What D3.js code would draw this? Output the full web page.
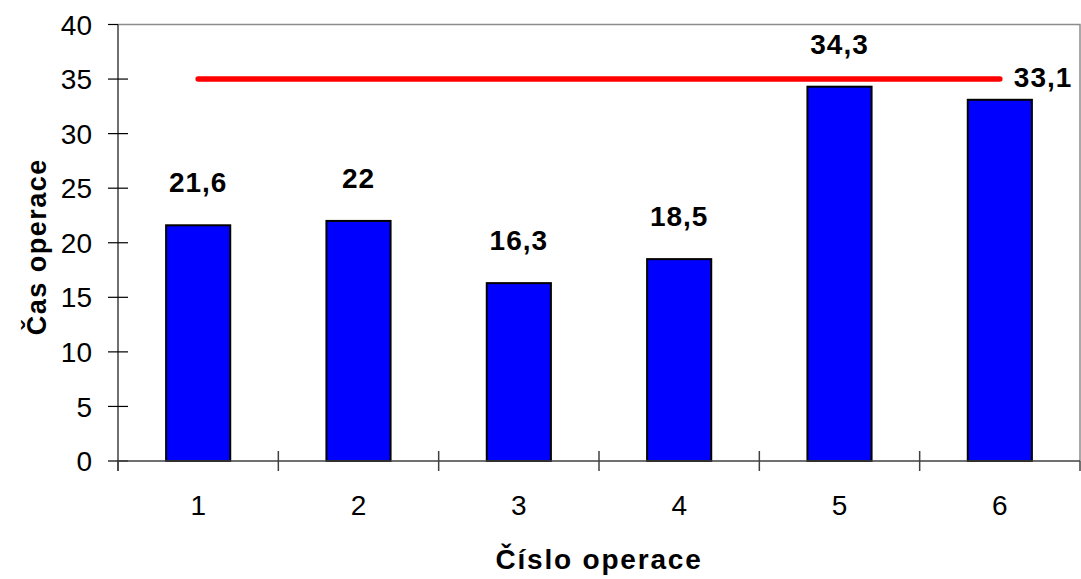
<!DOCTYPE html>
<html>
<head>
<meta charset="utf-8">
<script src="https://cdn.jsdelivr.net/npm/d3@7"></script>
<style>
  html, body { margin: 0; padding: 0; background: #fff; }
  svg { display: block; font-family: "Liberation Sans", Arial, sans-serif; }
</style>
</head>
<body>
<svg id="chart" width="1081" height="579"></svg>
<script>
// Operation numbers and their durations
const operations = ["1", "2", "3", "4", "5", "6"];
const durations = [21.6, 22, 16.3, 18.5, 34.3, 33.1];
const durationLabels = ["21,6", "22", "16,3", "18,5", "34,3", "33,1"];
// Limit line drawn across the operations
const limitValue = 35;
const yTicks = [0, 5, 10, 15, 20, 25, 30, 35, 40];

const svg = d3.select("#chart");
const margin = { left: 118, right: 1, top: 24.5, bottom: 118 };
const W = 1081, H = 579;
const x0 = margin.left, x1 = W - margin.right;
const y0 = H - margin.bottom, y1 = margin.top;

const x = d3.scaleBand().domain(operations).range([x0, x1]).paddingInner(0.6).paddingOuter(0.3);
const xOuter = d3.scaleBand().domain(operations).range([x0, x1]);
const y = d3.scaleLinear().domain([0, 40]).range([y0, y1]);

// plot frame: top and right edges
svg.append("path")
  .attr("d", `M${x0},${y1}H${x1}V${y0}`)
  .attr("fill", "none").attr("stroke", "#8c8c8c").attr("stroke-width", 1.5);

// bars
svg.append("g").selectAll("rect").data(durations).join("rect")
  .attr("x", (d, i) => x(operations[i]))
  .attr("width", x.bandwidth())
  .attr("y", d => y(d))
  .attr("height", d => y(0) - y(d))
  .attr("fill", "#0000ff")
  .attr("stroke", "#000").attr("stroke-width", 2);

// y axis with ticks crossing the line
const yAxis = svg.append("g").attr("transform", `translate(${x0},0)`);
yAxis.append("line").attr("x1", 0).attr("x2", 0).attr("y1", y(40)).attr("y2", y(0) + 10)
  .attr("stroke", "#404040").attr("stroke-width", 1.5);
yAxis.selectAll("line.t").data(yTicks).join("line").attr("class", "t")
  .attr("x1", -10).attr("x2", d => d === 40 ? 0 : 10)
  .attr("y1", d => y(d)).attr("y2", d => y(d))
  .attr("stroke", "#000").attr("stroke-width", 1.2);
yAxis.selectAll("text").data(yTicks).join("text")
  .attr("x", -26).attr("y", d => y(d)).attr("dy", "0.36em")
  .attr("text-anchor", "end").attr("font-size", 28).attr("fill", "#000")
  .text(d => d);

// x axis with category separators
const xAxis = svg.append("g");
xAxis.append("line").attr("x1", x0).attr("x2", x1).attr("y1", y0).attr("y2", y0)
  .attr("stroke", "#404040").attr("stroke-width", 1.5);
const seps = operations.map(o => xOuter(o)).concat([x1]);
xAxis.selectAll("line.t").data(seps).join("line").attr("class", "t")
  .attr("x1", d => d).attr("x2", d => d)
  .attr("y1", (d, i) => i === 0 || i === seps.length - 1 ? y0 : y0 - 10).attr("y2", y0 + 10)
  .attr("stroke", "#404040").attr("stroke-width", 1.5);
xAxis.selectAll("text").data(operations).join("text")
  .attr("x", d => xOuter(d) + xOuter.bandwidth() / 2).attr("y", y0 + 54)
  .attr("text-anchor", "middle").attr("font-size", 28).attr("fill", "#000")
  .text(d => d);

// limit line from the first to the last operation
const cx = o => xOuter(o) + xOuter.bandwidth() / 2;
svg.append("line")
  .attr("x1", cx(operations[0])).attr("x2", cx(operations[operations.length - 1]))
  .attr("y1", y(limitValue)).attr("y2", y(limitValue))
  .attr("stroke", "#ff0000").attr("stroke-width", 5.5).attr("stroke-linecap", "round");

// value labels; the last one sits to the right of the limit line end
svg.append("g").selectAll("text").data(durations).join("text")
  .attr("x", (d, i) => i === durations.length - 1 ? cx(operations[i]) + 14 : cx(operations[i]))
  .attr("y", (d, i) => i === durations.length - 1 ? y(limitValue) + 8 : y(d) - 33)
  .attr("text-anchor", (d, i) => i === durations.length - 1 ? "start" : "middle")
  .attr("font-size", 28).attr("font-weight", "bold").attr("fill", "#000")
  .attr("letter-spacing", 1)
  .text((d, i) => durationLabels[i]);

// axis titles
svg.append("text")
  .attr("x", (x0 + x1) / 2).attr("y", 569)
  .attr("text-anchor", "middle").attr("font-size", 28).attr("font-weight", "bold")
  .attr("letter-spacing", 1.8)
  .text("Číslo operace");
svg.append("text")
  .attr("transform", `translate(46,${(y0 + y1) / 2 + 4}) rotate(-90)`)
  .attr("text-anchor", "middle").attr("font-size", 27).attr("font-weight", "bold")
  .attr("letter-spacing", 1.5)
  .text("Čas operace");
</script>
</body>
</html>
